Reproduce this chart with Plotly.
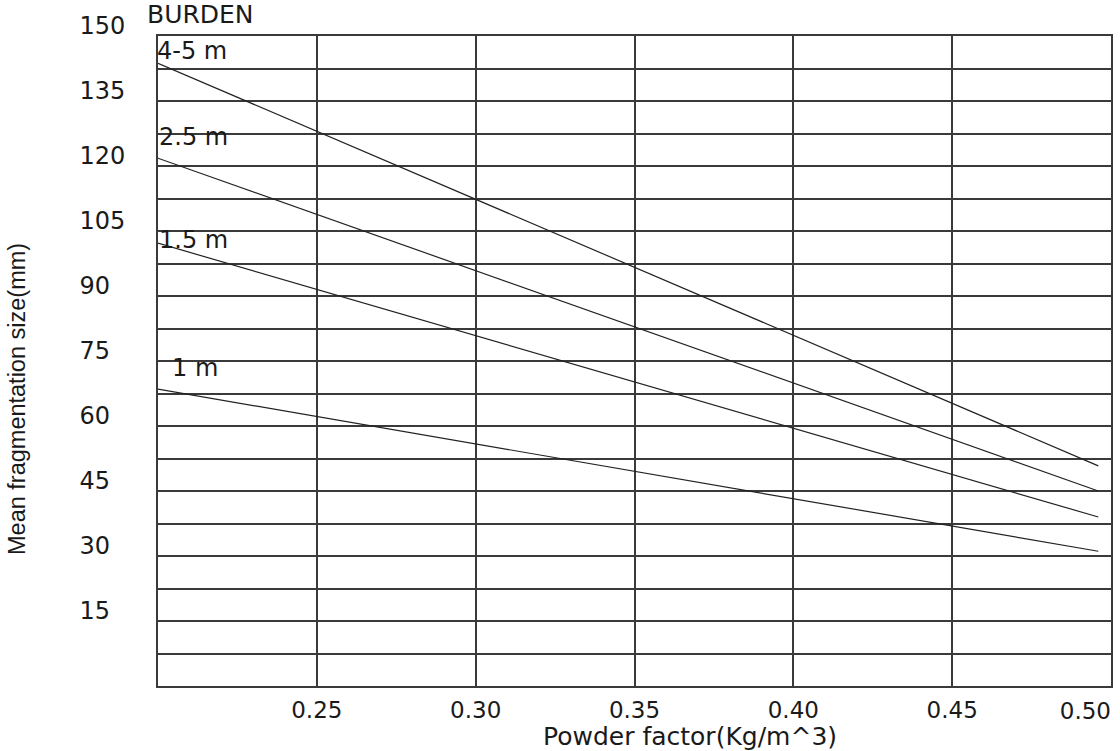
import plotly.graph_objects as go

# Data (straight lines: value at start and end)
powder_factor = [0.20, 0.496]
burden_labels = ["4-5 m", "2.5 m", "1.5 m", "1 m"]
frag_45m = [143.7, 50.8]
frag_25m = [121.8, 45.0]
frag_15m = [102.2, 39.0]
frag_1m = [68.5, 31.1]

x_tickvals = [0.25, 0.30, 0.35, 0.40, 0.45]
x_ticktext = ["0.25", "0.30", "0.35", "0.40", "0.45"]
x_last_tickval = [0.50]
x_last_ticktext = ["0.50"]
y_tickvals = [15, 30, 45, 60, 75, 90, 105, 120, 135, 150]
y_ticktext = ["15\u2007", "30\u2007", "45\u2007", "60\u2007", "75\u2007", "90\u2007",
              "105", "120", "135", "150"]

# label anchor positions (data coords) for the burden labels
label_x = [0.2000, 0.2006, 0.2006, 0.2047]
label_y = [146.5, 126.7, 102.9, 73.4]

series = [frag_45m, frag_25m, frag_15m, frag_1m]

LINE = "#222222"
GRID = "#3a3a3a"
TICKFONT = dict(family="DejaVu Sans", size=23, color="#1a1a1a")

fig = go.Figure()
for i, (name, ys) in enumerate(zip(burden_labels, series)):
    fig.add_trace(go.Scatter(x=powder_factor, y=ys, mode="lines", name=name,
                             xaxis="x2" if i == len(series) - 1 else "x",
                             line=dict(color=LINE, width=1.2), showlegend=False))

for txt, lx, ly in zip(burden_labels, label_x, label_y):
    fig.add_annotation(x=lx, y=ly, xref="x", yref="y", text=txt, showarrow=False,
                       xanchor="left", yanchor="middle", xshift=-3,
                       font=dict(family="DejaVu Sans", size=24, color="#1a1a1a"))

fig.add_annotation(x=(148 - 158) / 953, y=(686 - 15) / 650, xref="paper", yref="paper",
                   text="BURDEN", showarrow=False, xanchor="left", yanchor="middle",
                   xshift=-3,
                   font=dict(family="DejaVu Sans", size=25, color="#1a1a1a"))

fig.add_annotation(x=(690 - 158) / 953, y=(686 - 737) / 650, xref="paper", yref="paper",
                   text="Powder factor(Kg/m^3)", showarrow=False, xanchor="center",
                   yanchor="middle",
                   font=dict(family="DejaVu Sans", size=25, color="#1a1a1a"))

fig.add_annotation(x=(17 - 158) / 953, y=(686 - 399) / 650, xref="paper", yref="paper",
                   text="Mean fragmentation size(mm)", showarrow=False, textangle=-90,
                   xanchor="center", yanchor="middle",
                   font=dict(family="Liberation Sans, Arial, sans-serif",
                             size=23.5, color="#1a1a1a"))

fig.update_layout(
    xaxis=dict(range=[0.20, 0.50], tickmode="array", tickvals=x_tickvals,
               ticktext=x_ticktext, tickfont=TICKFONT, ticks="",
               ticklabelstandoff=2, automargin=False,
               showgrid=True, gridcolor=GRID, gridwidth=2,
               showline=True, linecolor=GRID, linewidth=2, mirror=True,
               zeroline=False, fixedrange=True),
    xaxis2=dict(matches="x", overlaying="x", anchor="y", side="bottom",
                range=[0.20, 0.50], tickmode="array", tickvals=x_last_tickval,
                ticktext=x_last_ticktext, tickfont=TICKFONT, ticks="",
                ticklabelposition="outside left", ticklabelstandoff=9,
                automargin=False, showgrid=False, showline=False,
                zeroline=False, fixedrange=True),
    yaxis=dict(range=[0, 150], tickmode="array", tickvals=y_tickvals,
               ticktext=y_ticktext, tickfont=dict(TICKFONT, size=24), ticks="",
               ticklabelstandoff=26, ticklabelshift=-10, automargin=False,
               showgrid=True, gridcolor=GRID, gridwidth=2,
               minor=dict(dtick=7.5, tick0=0, showgrid=True, gridcolor=GRID, gridwidth=2),
               showline=True, linecolor=GRID, linewidth=2, mirror=True,
               zeroline=False, fixedrange=True),
    width=1120, height=751, autosize=False,
    margin=dict(l=158, r=9, t=36, b=65),
    paper_bgcolor="white", plot_bgcolor="white",
    showlegend=False,
)

fig.write_html("out.html")
